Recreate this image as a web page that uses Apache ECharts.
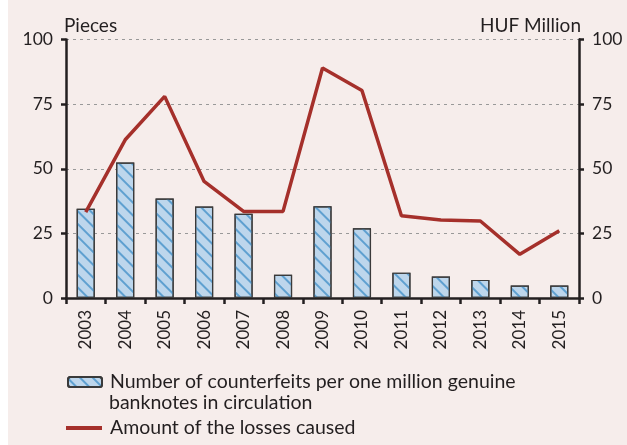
<!DOCTYPE html>
<html><head><meta charset="utf-8">
<script src="https://cdn.jsdelivr.net/npm/echarts@6/dist/echarts.min.js"></script>
<style>html,body{margin:0;padding:0;background:#fff;}#c{position:absolute;left:8px;top:0;width:619px;height:445px;}</style>
</head><body><div id="c"></div>
<script>
const years = ['2003','2004','2005','2006','2007','2008','2009','2010','2011','2012','2013','2014','2015'];
const counterfeits = [34.5, 52.4, 38.5, 35.4, 32.6, 9.0, 35.5, 27.0, 9.8, 8.3, 7.0, 4.8, 4.8];
const losses = [33.2, 61.2, 78.0, 45.1, 33.5, 33.5, 89.0, 80.3, 31.8, 30.2, 29.8, 16.9, 26.0];
const yTicks = [0, 25, 50, 75, 100];
const barName = 'Number of counterfeits per one million genuine';
const barName2 = 'banknotes in circulation';
const lineName = 'Amount of the losses caused';

const font = 'Lato, "Open Sans", sans-serif';
const txt = '#231F20';
const chart = echarts.init(document.getElementById('c'));
const axisCommon = {
  type: 'value', min: yTicks[0], max: yTicks[yTicks.length-1], interval: 25,
  axisLine: {show: true, lineStyle: {color: txt, width: 2.5}},
  axisTick: {show: true, length: 5, lineStyle: {color: txt, width: 2.5}},
  axisLabel: {color: txt, fontSize: 17.5, fontFamily: font, margin: 13},
  nameTextStyle: {color: txt, fontSize: 19, fontFamily: font},
  nameGap: 4
};
const legendText = {color: txt, fontSize: 19.5, fontFamily: font, lineHeight: 20, padding: [0,0,0,3]};
chart.setOption({
  backgroundColor: '#F6EDEB',
  animation: false,
  grid: {left: 58, right: 48, top: 39.5, bottom: 147},
  legend: [{
    left: 59, top: 372, padding: 0, itemWidth: 34, itemHeight: 10, itemGap: 6,
    data: [barName], textStyle: legendText
  },{
    left: 58, top: 418, padding: 0, itemWidth: 36, itemHeight: 4,
    data: [{name: lineName, icon: 'rect'}], textStyle: legendText
  }],
  graphic: [{
    type: 'text', left: 101, top: 393,
    style: {text: barName2, fill: txt, font: '19.5px ' + font}
  }],
  xAxis: {
    type: 'category', data: years, boundaryGap: true,
    axisLine: {lineStyle: {color: txt, width: 2.5}},
    axisTick: {show: true, alignWithLabel: false, length: 6, lineStyle: {color: txt, width: 2.5}},
    axisLabel: {rotate: 90, color: txt, fontSize: 17, fontFamily: font, margin: 12}
  },
  yAxis: [
    Object.assign({}, axisCommon, {position: 'left', name: 'Pieces', nameTextStyle: Object.assign({}, axisCommon.nameTextStyle, {align: 'left', padding: [0,0,0,-2]}),
      splitLine: {show: true, lineStyle: {color: '#999', type: [3,4], width: 1}}}),
    Object.assign({}, axisCommon, {position: 'right', name: 'HUF Million', nameTextStyle: Object.assign({}, axisCommon.nameTextStyle, {align: 'right', padding: [0,-2,0,0]}),
      splitLine: {show: false}})
  ],
  series: [{
    name: barName, type: 'bar', data: counterfeits, yAxisIndex: 0, barWidth: '46%',
    itemStyle: {color: '#BDD6EC', borderColor: '#3a3a3a', borderWidth: 1.2,
      decal: {symbol: 'rect', color: '#5FA0D0', dashArrayX: [1, 0], dashArrayY: [2, 7], rotation: Math.PI/4, symbolSize: 1}}
  },{
    name: lineName, type: 'line', data: losses, yAxisIndex: 1, symbol: 'none',
    lineStyle: {color: '#A5302B', width: 3.5}, itemStyle: {color: '#A5302B'}
  }]
});
</script></body></html>
